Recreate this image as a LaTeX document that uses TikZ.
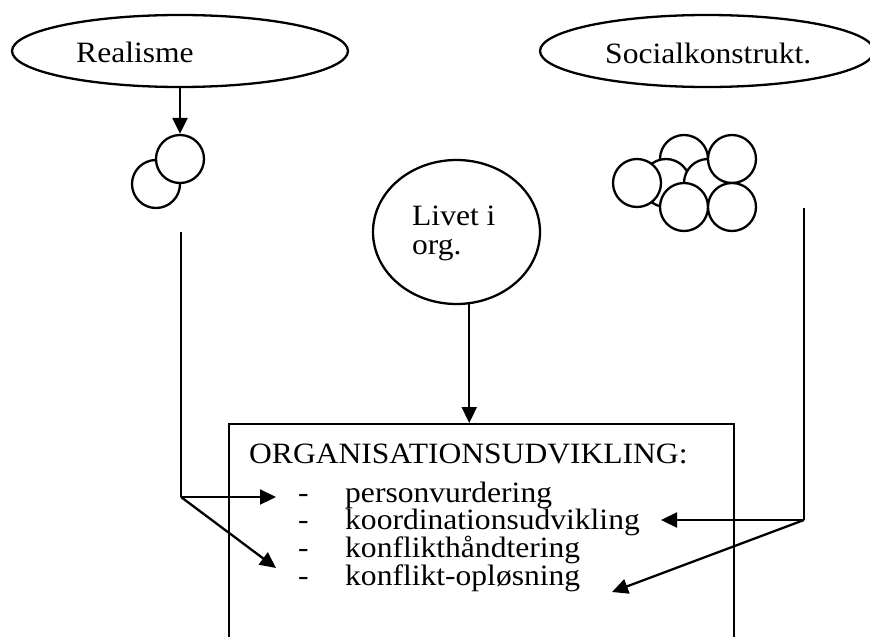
\documentclass[tikz,border=0pt]{standalone}
\usepackage{fontspec}
\setmainfont{Liberation Serif}[FakeStretch=1.07]
\usetikzlibrary{shapes.geometric,arrows.meta,calc}

\tikzset{
  line/.style={line width=2.3pt, black},
  arr/.style={line, -{Triangle[length=16pt,width=15pt]}},
  oval/.style={ellipse, draw, line width=2.3pt, inner sep=0pt, fill=white},
  ball/.style={circle, draw, line width=2.3pt, inner sep=0pt, minimum size=48pt, fill=white},
  txt/.style={anchor=base west, inner sep=0pt, font=\fontsize{29.5}{31}\selectfont},
  frame/.style={rectangle, draw, line width=2.3pt, inner sep=0pt, anchor=north west}
}

\begin{document}
\begin{tikzpicture}[x=1pt, y=-1pt]
  \useasboundingbox (0,0) rectangle (870,637);
  \clip (0,0) rectangle (870,637);

  % two viewpoints at the top
  \node[oval, minimum width=336pt, minimum height=72pt] (real) at (180,51) {};
  \node[txt] (realtxt) at (76,62) {Realisme};
  \node[oval, minimum width=334pt, minimum height=72pt] (soc) at (707,51) {};
  \node[txt] (soctxt) at (605,63) {Socialkonstrukt.};

  % realism: two individuals
  \node[ball] (r2) at (156,184) {};
  \node[ball] (r1) at (180,159) {};
  \draw[arr] (real.south) -- (r1.north);

  % social constructivism: a cluster of individuals
  \node[ball] (s3) at (684,159) {};
  \node[ball] (s5) at (666,183) {};
  \node[ball] (s6) at (708,183) {};
  \node[ball] (s1) at (637,183) {};
  \node[ball] (s4) at (732,159) {};
  \node[ball] (s2) at (684,207) {};
  \node[ball] (s7) at (732,207) {};

  % life in the organisation
  \node[oval, minimum width=167pt, minimum height=144pt] (livet) at (456.5,232) {};
  \node[txt] (livet1) at (412,225) {Livet i};
  \node[txt] (livet2) at (412,254) {org.};

  % organisational development box (runs past the lower edge)
  \node[frame, minimum width=505pt, minimum height=300pt] (box) at (228,423) {};
  \draw[arr] (livet.-80) -- (livet.-80 |- box.north);

  \node[txt] (head) at (249,463) {ORGANISATIONSUDVIKLING:};
  \node[txt] (d1) at (298,502) {-};
  \node[txt] (i1) at (345,502) {personvurdering};
  \node[txt] (d2) at (298,529) {-};
  \node[txt] (i2) at (345,529) {koordinationsudvikling};
  \node[txt] (d3) at (298,557) {-};
  \node[txt] (i3) at (345,557) {konflikthåndtering};
  \node[txt] (d4) at (298,585) {-};
  \node[txt] (i4) at (345,585) {konflikt-opløsning};

  % realism feeds person assessment and conflict handling
  \coordinate (ltop) at (181,232);
  \coordinate (ljoin) at (181,497);
  \coordinate (lend1) at (276,497);
  \coordinate (lend2) at (276,568);
  \draw[line] (ltop) -- (ljoin);
  \draw[arr] (ljoin) -- (lend1);
  \draw[arr] (ljoin) -- (lend2);

  % social constructivism feeds coordination and conflict resolution
  \coordinate (rtop) at (804,208);
  \coordinate (rjoin) at (804,520);
  \coordinate (rend1) at (661,520);
  \coordinate (rend2) at (612,592);
  \draw[line] (rtop) -- (rjoin);
  \draw[arr] (rjoin) -- (rend1);
  \draw[arr] (rjoin) -- (rend2);
\end{tikzpicture}
\end{document}
